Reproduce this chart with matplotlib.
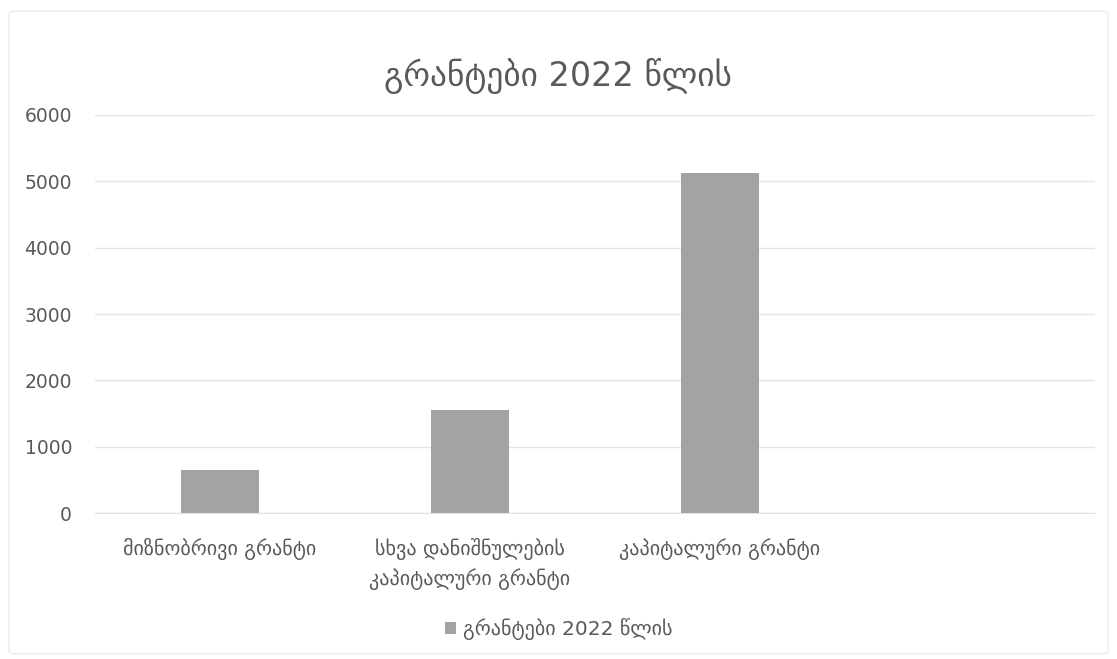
import matplotlib
matplotlib.use("Agg")
import matplotlib.pyplot as plt
from matplotlib.patches import FancyBboxPatch
import numpy as np

plt.rcParams['font.family'] = ['DejaVu Sans']

title = "გრანტები 2022 წლის"
series_name = "გრანტები 2022 წლის"
categories = ["მიზნობრივი გრანტი", "სხვა დანიშნულების\nკაპიტალური გრანტი", "კაპიტალური გრანტი"]
values = [650, 1555, 5130]
yticks = [0, 1000, 2000, 3000, 4000, 5000, 6000]

text_color = "#595959"
bar_color = "#a3a3a3"
grid_color = "#e3e3e3"

fig = plt.figure(figsize=(11.17, 6.59), dpi=100)
fig.patch.set_facecolor("white")

# faint outer chart border
border = FancyBboxPatch((0.008, 0.008), 0.984, 0.975, boxstyle="round,pad=0,rounding_size=0.005",
                        transform=fig.transFigure, facecolor="none", edgecolor="#ececec", linewidth=1.0)
fig.patches.append(border)

ax = fig.add_axes([0.085, 0.2215, 0.895, 0.604])
x = np.arange(len(categories))
ax.bar(x, values, width=0.31, color=bar_color, label=series_name, zorder=3)

ax.set_xlim(-0.5, 3.5)
ax.set_ylim(0, 6000)
ax.set_yticks(yticks)
ax.set_yticklabels([str(v) for v in yticks], fontsize=13.5)
ax.set_xticks(x)
ax.set_xticklabels(categories, linespacing=1.5, fontsize=14.5)
ax.grid(axis='y', color=grid_color, linewidth=1.0, zorder=0)
for s in ax.spines.values():
    s.set_visible(False)
ax.spines['bottom'].set_visible(True)
ax.spines['bottom'].set_color(grid_color)
ax.tick_params(axis='both', length=0, colors=text_color)
ax.tick_params(axis='y', pad=16.5)
ax.tick_params(axis='x', pad=18)

fig.text(0.5, 0.885, title, ha='center', va='center', fontsize=24, color=text_color)

leg = fig.legend(loc='center', bbox_to_anchor=(0.5, 0.045), frameon=False, fontsize=14.5,
                 handlelength=0.55, handleheight=0.55, handletextpad=0.35)
for t in leg.get_texts():
    t.set_color(text_color)

fig.savefig("out.png", dpi=100, facecolor="white")
